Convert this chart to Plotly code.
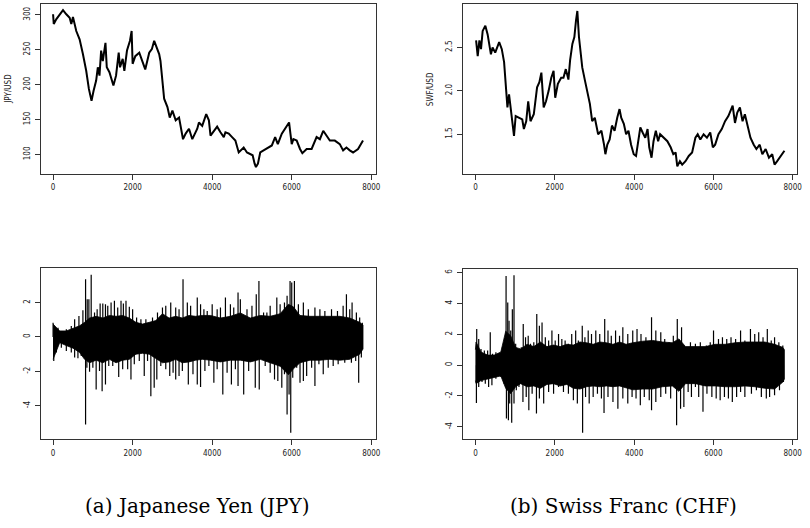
import plotly.graph_objects as go

# ---------------- data ----------------
# JPY/USD level (index, value)
jpy_idx = [0, 17, 83, 167, 250, 333, 417, 458, 500, 583, 667, 750, 833, 900, 933, 967, 1017, 1083,
           1125, 1167, 1208, 1250, 1317, 1350, 1417, 1517, 1583, 1650, 1683, 1750, 1792, 1858,
           1933, 1975, 2000, 2067, 2167, 2233, 2317, 2417, 2483, 2542, 2600, 2667, 2700, 2750,
           2792, 2875, 2933, 3000, 3083, 3167, 3267, 3333, 3417, 3500, 3625, 3667, 3750, 3850,
           3917, 3958, 4042, 4125, 4208, 4292, 4333, 4417, 4500, 4583, 4667, 4792, 4875, 4958,
           5017, 5067, 5100, 5150, 5208, 5292, 5417, 5500, 5583, 5650, 5750, 5850, 5933, 5967,
           6000, 6042, 6125, 6208, 6267, 6375, 6500, 6625, 6708, 6792, 6875, 6958, 7083, 7208,
           7292, 7375, 7458, 7542, 7667, 7792]
jpy_val = [301, 287, 294, 300, 307, 301, 296, 287, 297, 277, 265, 244, 220, 194, 184, 177, 191, 206,
           225, 213, 249, 234, 260, 225, 218, 199, 213, 246, 225, 237, 220, 249,
           263, 277, 230, 241, 246, 234, 222, 246, 251, 263, 253, 244, 234, 203,
           180, 168, 153, 163, 149, 153, 122, 130, 137, 122, 137, 146, 141, 158,
           149, 127, 134, 140, 132, 125, 132, 130, 125, 120, 103, 110, 103, 101,
           99, 87, 82, 87, 103, 106, 110, 113, 125, 115, 130, 139, 146, 130,
           115, 122, 120, 108, 102, 108, 108, 125, 122, 134, 127, 120, 120, 115,
           106, 110, 106, 103, 108, 120]

# SWF/USD level (index, value)
chf_idx = [17, 58, 100, 141, 183, 250, 308, 366, 391, 432, 499, 599, 665, 723, 782, 807, 848, 890,
           931, 973, 1015, 1098, 1181, 1222, 1281, 1331, 1389, 1472, 1555, 1613, 1663, 1721,
           1780, 1846, 1913, 1971, 2012, 2079, 2162, 2220, 2279, 2345, 2387, 2445, 2495, 2536,
           2570, 2611, 2661, 2694, 2761, 2827, 2886, 2944, 3010, 3094, 3177, 3243, 3277, 3326,
           3385, 3443, 3509, 3576, 3634, 3676, 3742, 3800, 3859, 3925, 3992, 4050, 4108, 4158,
           4216, 4283, 4341, 4383, 4441, 4491, 4549, 4607, 4657, 4757, 4840, 4923, 4990, 5048,
           5090, 5156, 5214, 5297, 5380, 5464, 5547, 5605, 5671, 5754, 5838, 5921, 5987, 6045,
           6129, 6212, 6295, 6378, 6437, 6486, 6545, 6603, 6669, 6736, 6794, 6852, 6935, 7018,
           7085, 7168, 7235, 7318, 7401, 7484, 7543, 7609, 7667, 7750, 7792]
chf_val = [2.58, 2.40, 2.58, 2.48, 2.69, 2.75, 2.65, 2.50, 2.42, 2.50, 2.44, 2.56, 2.48, 2.33, 1.96,
           1.81, 1.96, 1.77, 1.60, 1.48, 1.71, 1.69, 1.67, 1.56, 1.65, 1.88, 1.65, 1.73, 2.04,
           2.10, 2.21, 1.81, 1.88, 2.00, 2.15, 2.23, 1.92, 2.08, 2.15, 2.15, 2.25, 2.13, 2.35,
           2.54, 2.62, 2.81, 2.92, 2.62, 2.42, 2.27, 2.12, 1.96, 1.85, 1.65, 1.69, 1.50, 1.54,
           1.38, 1.27, 1.38, 1.44, 1.60, 1.54, 1.69, 1.79, 1.69, 1.62, 1.50, 1.54, 1.38, 1.27,
           1.25, 1.42, 1.58, 1.52, 1.46, 1.56, 1.35, 1.23, 1.42, 1.54, 1.42, 1.50, 1.46, 1.42,
           1.35, 1.27, 1.29, 1.13, 1.19, 1.15, 1.19, 1.25, 1.29, 1.46, 1.50, 1.44, 1.50, 1.46,
           1.52, 1.35, 1.38, 1.50, 1.56, 1.65, 1.71, 1.79, 1.83, 1.63, 1.75, 1.81, 1.65, 1.73,
           1.62, 1.46, 1.38, 1.33, 1.38, 1.27, 1.33, 1.23, 1.27, 1.15, 1.19, 1.23, 1.29, 1.31]

# JPY returns: edges of the dense black band
jpy_band_idx = [0, 167, 333, 500, 667, 792, 917, 1083, 1250, 1417, 1583, 1750, 1917, 2083, 2250,
                2417, 2583, 2750, 2917, 3083, 3250, 3417, 3583, 3750, 3958, 4208, 4458, 4708,
                4958, 5208, 5458, 5708, 5917, 6042, 6208, 6458, 6708, 6958, 7208, 7458, 7708, 7792]
jpy_band_up = [0.75, 0.35, 0.35, 0.5, 0.65, 0.85, 1.1, 1.2, 1.1, 1.25, 1.2, 1.25, 1.1, 0.85, 0.75,
               0.85, 0.95, 1.35, 1.1, 1.2, 1.1, 1.25, 1.2, 1.25, 1.25, 1.1, 1.2, 1.4, 1.1, 1.25,
               1.2, 1.35, 1.9, 1.75, 1.25, 1.2, 1.2, 1.2, 1.2, 1.1, 0.85, 0.7]
jpy_band_lo = [-1.3, -0.33, -0.5, -0.65, -0.9, -1.3, -1.5, -1.35, -1.5, -1.3, -1.5, -1.35, -1.3,
               -1.0, -0.95, -1.0, -1.25, -1.5, -1.45, -1.3, -1.5, -1.45, -1.35, -1.3, -1.35, -1.45,
               -1.35, -1.35, -1.45, -1.3, -1.5, -1.7, -2.2, -1.85, -1.5, -1.35, -1.35, -1.3, -1.35,
               -1.3, -1.0, -0.7]
# JPY returns: individual spikes
jpy_spk_idx = [0, 125, 333, 458, 542, 650, 750, 817, 858, 900, 958, 1042, 1108, 1183, 1250, 1317,
               1375, 1458, 1542, 1625, 1708, 1767, 1833, 1917, 2000, 2100, 2208, 2333, 2500, 2625,
               2750, 2833, 2958, 3083, 3167, 3267, 3375, 3458, 3625, 3708, 3792, 3875, 4000, 4125,
               4208, 4333, 4458, 4542, 4650, 4708, 4875, 5000, 5108, 5175, 5292, 5375, 5458, 5625,
               5708, 5817, 5883, 5958, 6000, 6067, 6167, 6292, 6417, 6583, 6708, 6833, 7000, 7150,
               7292, 7375, 7458, 7517, 7625, 7708, 7775,
               17, 83, 208, 333, 458, 542, 625, 708, 817, 850, 917, 1000, 1083, 1167, 1233, 1317,
               1400, 1500, 1650, 1750, 1875, 1958, 2042, 2167, 2292, 2375, 2458, 2542, 2608, 2708,
               2833, 2933, 3017, 3083, 3167, 3250, 3400, 3517, 3625, 3708, 3817, 3917, 4042, 4125,
               4267, 4375, 4483, 4583, 4650, 4792, 4917, 5083, 5183, 5333, 5458, 5567, 5650, 5750,
               5817, 5883, 5933, 5975, 6025, 6125, 6208, 6292, 6375, 6500, 6583, 6683, 6792, 6917,
               7042, 7167, 7333, 7500, 7608, 7683, 7750]
jpy_spk_val = [0.83, 0.54, 0.45, 0.64, 1.03, 1.22, 1.55, 3.36, 2.19, 2.19, 3.61, 1.42, 1.61, 1.94,
               1.94, 1.90, 1.81, 2.0, 2.10, 1.71, 2.10, 1.94, 2.10, 1.75, 1.61, 1.13, 1.03, 1.03,
               1.13, 1.42, 1.71, 1.81, 2.0, 1.71, 1.61, 3.36, 2.0, 1.81, 2.29, 1.9, 1.61, 1.51,
               1.9, 1.61, 1.71, 2.29, 1.9, 1.71, 2.58, 2.19, 1.61, 1.81, 2.49, 3.26, 1.42, 1.42,
               1.81, 2.29, 1.9, 2.0, 2.39, 3.26, 3.17, 3.26, 1.9, 2.0, 1.61, 1.71, 1.61, 1.51,
               1.61, 1.51, 1.81, 2.49, 1.61, 2.0, 1.42, 1.13, 0.83,
               -1.40, -0.91, -0.62, -0.82, -0.91, -1.20, -1.24, -1.11, -5.09, -1.79, -2.02, -1.79,
               -3.05, -1.98, -3.15, -2.76, -1.69, -1.69, -2.33, -1.88, -1.88, -2.47, -1.59, -1.40,
               -2.27, -1.40, -3.44, -2.95, -2.47, -1.69, -1.88, -2.27, -2.08, -2.47, -2.27, -1.98,
               -2.76, -2.17, -2.76, -2.91, -1.98, -1.69, -2.66, -1.88, -3.34, -2.08, -2.76, -1.88,
               -2.85, -3.34, -1.98, -2.95, -3.05, -1.69, -2.08, -2.47, -2.56, -2.95, -2.17, -4.50,
               -3.34, -5.57, -2.37, -1.79, -2.66, -2.56, -2.27, -1.79, -2.85, -1.59, -2.17, -1.79,
               -1.69, -1.59, -1.50, -1.50, -1.40, -2.66, -1.20]

# CHF returns: edges of the dense black band
chf_band_idx = [0, 16, 141, 307, 474, 640, 764, 889, 1014, 1139, 1305, 1471, 1638, 1804, 1970,
                2137, 2303, 2469, 2636, 2802, 2968, 3135, 3301, 3467, 3634, 3800, 3967, 4216,
                4466, 4715, 4965, 5131, 5298, 5547, 5797, 6047, 6296, 6546, 6795, 7045, 7294,
                7544, 7752, 7790]
chf_band_up = [1.0, 1.5, 0.85, 0.65, 0.65, 0.85, 2.2, 1.9, 1.15, 1.05, 1.35, 1.2, 1.5, 1.2, 1.3,
               1.2, 1.35, 1.3, 1.5, 1.45, 1.35, 1.5, 1.45, 1.35, 1.5, 1.35, 1.45, 1.55, 1.6, 1.5,
               1.45, 1.7, 1.2, 1.2, 1.2, 1.35, 1.35, 1.45, 1.5, 1.5, 1.5, 1.35, 1.15, 1.0]
chf_band_lo = [-1.0, -1.2, -1.0, -0.9, -0.8, -0.7, -1.5, -1.85, -1.4, -1.2, -1.4, -1.35, -1.5,
               -1.25, -1.2, -1.35, -1.25, -1.5, -1.55, -1.4, -1.35, -1.4, -1.35, -1.4, -1.35,
               -1.5, -1.6, -1.55, -1.55, -1.4, -1.35, -1.7, -1.2, -1.2, -1.35, -1.35, -1.4, -1.4,
               -1.35, -1.4, -1.5, -1.55, -1.1, -0.9]
# CHF returns: individual spikes
chf_spk_idx = [33, 83, 141, 225, 308, 374, 432, 516, 599, 682, 740, 773, 815, 848, 890, 931, 973,
               1015, 1098, 1156, 1206, 1264, 1331, 1389, 1472, 1547, 1613, 1680, 1763, 1846, 1929,
               2012, 2096, 2179, 2262, 2345, 2428, 2528, 2595, 2694, 2761, 2844, 2927, 3035, 3135,
               3260, 3343, 3426, 3534, 3634, 3717, 3842, 3967, 4075, 4175, 4299, 4441, 4549, 4674,
               4773, 4882, 4990, 5090, 5198, 5297, 5422, 5547, 5671, 5821, 5921, 6004, 6129, 6229,
               6337, 6445, 6561, 6686, 6794, 6935, 7043, 7143, 7252, 7360, 7459, 7543, 7651, 7751,
               25, 83, 166, 249, 333, 416, 516, 640, 723, 782, 832, 865, 915, 973, 1031, 1098, 1198,
               1281, 1347, 1430, 1539, 1613, 1721, 1846, 1971, 2096, 2220, 2345, 2470, 2570, 2703,
               2777, 2869, 2969, 3077, 3177, 3243, 3343, 3468, 3592, 3717, 3842, 3950, 4050, 4158,
               4258, 4383, 4441, 4549, 4674, 4798, 4923, 5073, 5173, 5256, 5364, 5447, 5547, 5630,
               5738, 5838, 5962, 6071, 6171, 6279, 6379, 6478, 6586, 6686, 6794, 6960, 7085, 7210,
               7335, 7418, 7543, 7667, 7767]
chf_spk_val = [2.34, 1.70, 1.05, 0.95, 0.95, 2.13, 0.73, 0.84, 0.73, 1.16, 1.59, 5.78, 4.06, 2.88,
               2.24, 3.63, 5.83, 1.38, 0.73, 1.16, 2.67, 1.81, 1.91, 1.38, 1.48, 3.31, 2.56, 2.77,
               1.81, 1.59, 2.24, 1.59, 2.02, 1.70, 1.59, 1.38, 2.02, 2.24, 1.59, 2.56, 1.81, 2.24,
               2.02, 2.24, 2.02, 2.99, 2.24, 1.91, 2.24, 1.91, 2.45, 2.02, 2.24, 2.34, 2.02, 1.81,
               3.10, 2.24, 2.13, 1.70, 1.48, 1.91, 2.99, 2.45, 1.16, 1.48, 1.38, 1.48, 1.27, 1.48,
               2.24, 1.70, 1.81, 1.70, 1.81, 1.70, 2.24, 1.59, 2.34, 2.02, 2.13, 1.81, 2.34, 1.59,
               1.81, 1.48, 1.27,
               -2.45, -1.42, -1.10, -1.20, -1.42, -1.31, -0.88, -0.77, -1.20, -3.46, -3.57, -2.49,
               -3.74, -2.49, -1.63, -1.42, -2.39, -2.06, -2.92, -1.85, -3.14, -2.17, -2.49, -1.74,
               -1.85, -1.42, -1.74, -1.85, -2.28, -2.49, -4.39, -2.06, -2.49, -2.06, -1.85, -2.17,
               -3.10, -2.06, -2.39, -2.82, -2.17, -2.49, -2.06, -2.17, -2.60, -2.06, -2.28, -2.92,
               -2.39, -2.06, -1.85, -2.17, -3.89, -2.82, -2.71, -1.74, -2.06, -1.42, -2.06, -3.03,
               -1.85, -2.06, -2.17, -2.28, -2.06, -2.17, -2.39, -2.06, -1.74, -2.06, -1.85, -1.63,
               -2.06, -2.17, -2.06, -1.96, -1.63, -1.10]

x_ticks = [0, 2000, 4000, 6000, 8000]
captions = ["(a) Japanese Yen (JPY)", "(b) Swiss Franc (CHF)"]
ylabels = ["JPY/USD", "SWF/USD"]

# ---------------- figure ----------------
W, H = 810, 528
TICKFONT = dict(family="Liberation Sans Narrow, DejaVu Sans Condensed, Roboto Condensed, Arial Narrow, sans-serif",
                size=8, color="#222")
CAPFONT = dict(family="DejaVu Serif, serif", size=20, color="black")
LINEC = "#333"

fig = go.Figure()

def band_trace(idx, up, lo, xa, ya):
    return go.Scatter(x=list(idx) + list(idx)[::-1], y=list(up) + list(lo)[::-1],
                      fill="toself", fillcolor="black", mode="lines",
                      line=dict(width=0.8, color="black"), xaxis=xa, yaxis=ya,
                      hoverinfo="skip", showlegend=False)

def spike_trace(idx, val, xa, ya):
    xs, ys = [], []
    for i, v in zip(idx, val):
        xs += [i, i, None]
        ys += [0, v, None]
    return go.Scatter(x=xs, y=ys, mode="lines", line=dict(width=1.2, color="black"),
                      xaxis=xa, yaxis=ya, hoverinfo="skip", showlegend=False)

fig.add_trace(go.Scatter(x=jpy_idx, y=jpy_val, mode="lines", line=dict(color="black", width=2),
                         xaxis="x", yaxis="y", showlegend=False))
fig.add_trace(go.Scatter(x=chf_idx, y=chf_val, mode="lines", line=dict(color="black", width=2),
                         xaxis="x2", yaxis="y2", showlegend=False))
fig.add_trace(band_trace(jpy_band_idx, jpy_band_up, jpy_band_lo, "x3", "y3"))
fig.add_trace(spike_trace(jpy_spk_idx, jpy_spk_val, "x3", "y3"))
fig.add_trace(band_trace(chf_band_idx, chf_band_up, chf_band_lo, "x4", "y4"))
fig.add_trace(spike_trace(chf_spk_idx, chf_spk_val, "x4", "y4"))

def px_x(a, b):
    return [a / W, b / W]

def px_y(top, bottom):
    return [1 - bottom / H, 1 - top / H]

boxes = {
    1: (41, 378, 3, 173),
    2: (466, 802, 3, 173),
    3: (41, 378, 268, 439),
    4: (466, 802, 269, 439),
}
yranges = {1: [72.6, 315.7], 2: [1.046, 3.0], 3: [-5.94, 3.98], 4: [-4.8, 6.2]}
yticks = {
    1: ([100, 150, 200, 250, 300], ["100", "150", "200", "250", "300"]),
    2: ([1.5, 2.0, 2.5], ["1.5", "2.0", "2.5"]),
    3: ([-4, -2, 0, 2], ["-4", "-2", "0", "2"]),
    4: ([-4, -2, 0, 2, 4, 6], ["-4", "-2", "0", "2", "4", "6"]),
}

axis_common = dict(showline=True, linecolor=LINEC, linewidth=1, mirror=True, showgrid=False,
                   zeroline=False, ticks="outside", ticklen=5, tickwidth=1, tickcolor=LINEC,
                   tickfont=TICKFONT, ticklabeloverflow="allow")

layout = dict(width=W, height=H, margin=dict(l=0, r=0, t=0, b=0),
              plot_bgcolor="white", paper_bgcolor="white", showlegend=False)
for k, (x0, x1, y0, y1) in boxes.items():
    sx = "" if k == 1 else str(k)
    layout["xaxis" + sx] = dict(domain=px_x(x0, x1), range=[-310, 8110], anchor="y" + sx,
                                tickvals=x_ticks, ticktext=[str(t) for t in x_ticks],
                                ticklabelstandoff=1, **axis_common)
    layout["yaxis" + sx] = dict(domain=px_y(y0, y1), range=yranges[k], anchor="x" + sx,
                                tickvals=yticks[k][0], ticktext=yticks[k][1], tickangle=-90,
                                ticklabelstandoff=2, **axis_common)
fig.update_layout(**layout)

annots = []
annots.append(dict(x=9 / W, y=1 - 88 / H, text=ylabels[0], textangle=-90, showarrow=False,
                   xref="paper", yref="paper", xanchor="center", yanchor="middle", font=TICKFONT))
annots.append(dict(x=434 / W, y=1 - 88 / H, text=ylabels[1], textangle=-90, showarrow=False,
                   xref="paper", yref="paper", xanchor="center", yanchor="middle", font=TICKFONT))
annots.append(dict(x=314 / W, y=1 - 506 / H, text=captions[0], showarrow=False,
                   xref="paper", yref="paper", xanchor="right", yanchor="middle", font=CAPFONT))
annots.append(dict(x=744 / W, y=1 - 506 / H, text=captions[1], showarrow=False,
                   xref="paper", yref="paper", xanchor="right", yanchor="middle", font=CAPFONT))
fig.update_layout(annotations=annots)

fig.write_html("out.html", config={"displayModeBar": False},
               post_script="document.body.style.margin='0';document.body.style.overflow='hidden';")
